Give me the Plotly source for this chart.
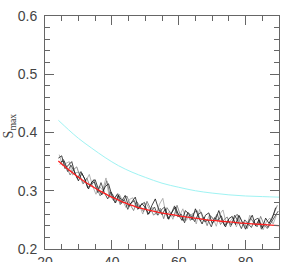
import plotly.graph_objects as go

# ---- data ----
xA = [24 + i for i in range(66)]
sA = [0.356, 0.360, 0.338, 0.345, 0.350, 0.329, 0.317, 0.330, 0.319, 0.303,
      0.315, 0.319, 0.302, 0.293, 0.307, 0.312, 0.292, 0.279, 0.292, 0.283,
      0.292, 0.273, 0.281, 0.289, 0.269, 0.278, 0.271, 0.260, 0.275, 0.286,
      0.268, 0.259, 0.269, 0.251, 0.263, 0.272, 0.258, 0.249, 0.266, 0.260,
      0.250, 0.269, 0.254, 0.243, 0.258, 0.262, 0.244, 0.251, 0.266, 0.248,
      0.238, 0.252, 0.256, 0.242, 0.258, 0.246, 0.234, 0.248, 0.258, 0.240,
      0.250, 0.236, 0.253, 0.244, 0.253, 0.271]

xB = [24.5 + i for i in range(66)]
sB = [0.345, 0.354, 0.341, 0.327, 0.336, 0.341, 0.324, 0.312, 0.322, 0.307,
      0.319, 0.306, 0.291, 0.302, 0.317, 0.292, 0.283, 0.293, 0.276, 0.284,
      0.291, 0.276, 0.266, 0.281, 0.272, 0.264, 0.282, 0.270, 0.258, 0.264,
      0.270, 0.252, 0.271, 0.262, 0.255, 0.275, 0.258, 0.248, 0.260, 0.249,
      0.262, 0.266, 0.248, 0.255, 0.240, 0.257, 0.250, 0.260, 0.242, 0.250,
      0.255, 0.238, 0.251, 0.260, 0.243, 0.246, 0.235, 0.252, 0.246, 0.238,
      0.256, 0.242, 0.235, 0.250, 0.261, 0.275]

xC = [24.25 + i for i in range(66)]
sC = [0.362, 0.343, 0.347, 0.350, 0.327, 0.331, 0.332, 0.312, 0.317, 0.328,
      0.308, 0.294, 0.308, 0.301, 0.322, 0.288, 0.294, 0.280, 0.294, 0.282,
      0.271, 0.285, 0.288, 0.271, 0.275, 0.260, 0.279, 0.268, 0.271, 0.259,
      0.277, 0.287, 0.258, 0.265, 0.251, 0.266, 0.257, 0.269, 0.249, 0.257,
      0.261, 0.243, 0.268, 0.252, 0.246, 0.259, 0.253, 0.239, 0.260, 0.267,
      0.243, 0.247, 0.254, 0.238, 0.256, 0.244, 0.236, 0.258, 0.246, 0.238,
      0.250, 0.233, 0.247, 0.253, 0.243, 0.258]

xD = [24.75 + i for i in range(66)]
sD = [0.350, 0.351, 0.333, 0.344, 0.333, 0.321, 0.333, 0.322, 0.305, 0.311,
      0.315, 0.297, 0.314, 0.297, 0.286, 0.298, 0.287, 0.295, 0.278, 0.285,
      0.268, 0.279, 0.283, 0.268, 0.276, 0.280, 0.259, 0.265, 0.272, 0.258,
      0.267, 0.272, 0.252, 0.261, 0.274, 0.255, 0.260, 0.245, 0.263, 0.257,
      0.247, 0.259, 0.263, 0.247, 0.250, 0.238, 0.254, 0.249, 0.257, 0.240,
      0.249, 0.241, 0.258, 0.247, 0.235, 0.250, 0.243, 0.237, 0.250, 0.253,
      0.234, 0.243, 0.237, 0.246, 0.255, 0.265]

fit_x = [24, 26, 28, 30, 32, 34, 36, 38, 40, 42, 44, 46, 48, 50, 54, 58, 62, 66, 70, 74, 78, 82, 86, 90]
fit_y = [0.351, 0.341, 0.332, 0.323, 0.315, 0.308, 0.301, 0.295, 0.289, 0.284, 0.279, 0.275,
         0.271, 0.268, 0.263, 0.259, 0.255, 0.252, 0.249, 0.247, 0.245, 0.243, 0.242, 0.240]

cyan_x = [24, 27, 30, 34, 38, 42, 46, 50, 55, 60, 65, 70, 75, 80, 85, 90]
cyan_y = [0.421, 0.405, 0.390, 0.373, 0.357, 0.343, 0.332, 0.323, 0.313, 0.306,
          0.300, 0.296, 0.293, 0.291, 0.290, 0.289]

x_ticks = [20, 40, 60, 80]
y_ticks = [0.2, 0.3, 0.4, 0.5, 0.6]

fig = go.Figure()
for xs, ys, col in [(xC, sC, "#a0a0a0"), (xB, sB, "#707070"), (xD, sD, "#303030"), (xA, sA, "#111111")]:
    fig.add_trace(go.Scatter(x=xs, y=ys, mode="lines", line=dict(color=col, width=0.8), hoverinfo="skip"))
fig.add_trace(go.Scatter(x=cyan_x, y=cyan_y, mode="lines", line=dict(color="#9ff3f3", width=1, shape="spline")))
fig.add_trace(go.Scatter(x=fit_x, y=fit_y, mode="lines", line=dict(color="#ff2020", width=1.3, shape="spline")))

axis_common = dict(
    showgrid=False, zeroline=False, showline=True, linecolor="#666", linewidth=1, mirror="ticks",
    ticks="inside", ticklen=9, tickwidth=1, tickcolor="#666",
    tickfont=dict(family="Liberation Sans", size=14, color="#444"),
    automargin=False, ticklabeloverflow="allow",
)
fig.update_xaxes(range=[20, 90], tickvals=x_ticks, ticktext=[str(v) for v in x_ticks],
                 minor=dict(dtick=5, tick0=20, ticks="inside", ticklen=5, tickcolor="#666"),
                 ticklabelstandoff=0, **axis_common)
fig.update_yaxes(range=[0.2, 0.6], tickvals=y_ticks, ticktext=["0.2", "0.3", "0.4", "0.5", "0.6"],
                 minor=dict(dtick=0.02, tick0=0.2, ticks="inside", ticklen=5, tickcolor="#666"),
                 ticklabelstandoff=4, **axis_common)
fig.add_annotation(text="S<sub>max</sub>", xref="paper", yref="paper", x=-0.15, y=0.53,
                   textangle=-90, showarrow=False, xanchor="center", yanchor="middle",
                   font=dict(family="Liberation Serif", size=14, color="#444"))
fig.update_layout(width=295, height=262, margin=dict(l=45, r=16, t=16, b=13),
                  plot_bgcolor="white", paper_bgcolor="white", showlegend=False)
fig.write_html("out.html", config={"displayModeBar": False},
               post_script="document.body.style.margin='0';")
